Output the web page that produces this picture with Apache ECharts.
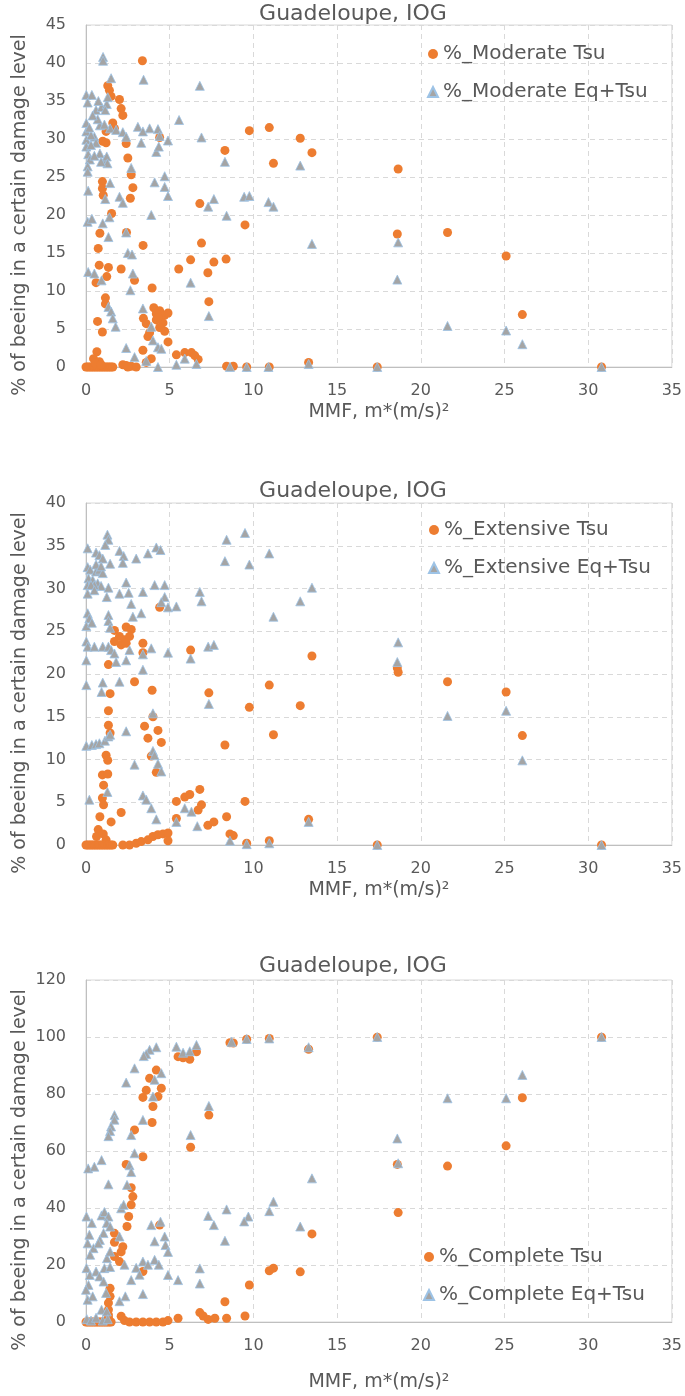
<!DOCTYPE html>
<html>
<head>
<meta charset="utf-8">
<script src="https://cdn.jsdelivr.net/npm/echarts@6/dist/echarts.min.js"></script>
<style>html,body{margin:0;padding:0;background:#fff}#c{width:685px;height:1396px}</style>
</head>
<body>
<div id="c"></div>
<script>
// ---------- DATA ----------
const titles = ['Guadeloupe, IOG', 'Guadeloupe, IOG', 'Guadeloupe, IOG'];
const seriesNames = [
  ['%_Moderate Tsu', '%_Moderate Eq+Tsu'],
  ['%_Extensive Tsu', '%_Extensive Eq+Tsu'],
  ['%_Complete Tsu', '%_Complete Eq+Tsu']
];
const xAxisName = 'MMF, m*(m/s)\u00B2';
const yAxisName = '% of beeing in a certain damage level';
const xRange = [0, 35, 5];
const yMax = [45, 40, 120];
const yInterval = [5, 5, 20];

const moderateTsu = [[3.37,40.3],[1.3,37.0],[1.4,36.4],[1.5,35.6],[2.0,35.2],[2.1,34.0],[2.2,33.1],[1.6,32.1],[1.7,31.4],[1.2,31.0],[1.0,29.7],[1.2,29.5],[2.4,29.4],[4.4,30.2],[8.3,28.5],[9.76,31.1],[10.95,31.5],[12.8,30.1],[13.5,28.2],[11.2,26.8],[2.5,27.5],[2.7,25.3],[2.8,23.6],[2.65,22.2],[0.98,24.4],[0.98,23.5],[1.03,22.6],[6.8,21.5],[1.53,20.2],[9.5,18.7],[0.83,17.6],[2.42,17.7],[0.73,15.6],[3.41,16.0],[6.9,16.3],[0.79,13.4],[1.34,13.1],[2.1,12.9],[1.24,11.9],[0.6,11.1],[2.9,11.4],[5.54,12.9],[6.25,14.1],[7.64,13.8],[7.28,12.4],[8.37,14.2],[7.34,8.6],[3.95,10.4],[1.16,9.1],[1.16,8.3],[0.69,6.0],[0.98,4.6],[3.43,6.4],[3.6,5.7],[4.05,7.8],[4.4,7.4],[4.7,6.8],[4.9,7.1],[4.2,6.2],[4.6,5.8],[4.4,5.2],[4.7,4.7],[3.8,4.5],[3.7,4.0],[4.9,3.3],[4.2,7.0],[4.3,6.5],[3.4,2.2],[3.9,1.1],[3.6,0.6],[5.4,1.6],[5.9,1.9],[6.3,1.9],[6.5,1.5],[6.7,1.0],[0.65,2.0],[0.45,1.1],[0.8,0.7],[2.2,0.3],[2.7,0.1],[3.0,0],[2.4,0.2],[2.5,0],[8.4,0.1],[8.8,0.1],[9.6,0],[10.95,0],[13.3,0.6],[18.65,26.05],[18.6,17.5],[21.6,17.7],[25.1,14.6],[26.07,6.9],[17.4,0],[30.8,0],[0,0],[0.1,0],[0.2,0],[0.3,0],[0.4,0],[0.5,0],[0.6,0],[0.7,0],[0.8,0],[0.9,0],[1.0,0],[1.1,0],[1.2,0],[1.3,0],[1.4,0],[1.5,0],[1.6,0],[0.55,0.5],[0.9,0.3]];

const moderateEqTsu = [[1.02,40.8],[1.02,40.3],[3.44,37.8],[6.8,37.0],[1.5,38.0],[0.02,35.8],[0.35,35.8],[0.1,34.8],[0.6,33.8],[0.93,34.2],[0.74,35.0],[1.24,34.6],[1.15,33.8],[1.3,35.5],[0.02,32.1],[0.02,31.0],[0.02,29.9],[0.02,29.0],[0.13,28.0],[0.23,27.3],[0.1,26.4],[0.1,25.7],[0.83,28.1],[1.13,27.3],[1.24,27.7],[1.28,26.8],[0.83,31.8],[1.44,31.4],[0.5,30.3],[0.3,30.5],[0.6,29.5],[0.2,31.5],[1.1,31.9],[0.7,32.6],[0.4,33.1],[0.9,27.0],[0.5,27.8],[0.3,29.2],[1.8,31.2],[2.2,30.9],[2.4,30.3],[3.1,31.6],[3.4,31.0],[3.3,29.5],[3.8,31.4],[4.3,31.3],[4.4,30.4],[4.9,29.8],[4.2,28.3],[4.35,29.0],[5.56,32.5],[6.9,30.2],[8.3,27.0],[12.8,26.5],[2.7,26.2],[0.13,23.2],[1.15,22.1],[1.44,24.2],[2.0,22.4],[2.2,21.6],[4.1,24.3],[4.7,25.1],[4.7,23.7],[4.9,22.5],[7.64,22.1],[7.3,21.1],[9.45,22.4],[9.76,22.5],[10.9,21.7],[11.2,21.1],[8.4,19.9],[3.9,20.0],[0.1,19.1],[0.35,19.5],[1.0,18.9],[1.4,19.7],[1.34,17.1],[2.4,17.7],[2.5,15.0],[2.75,14.8],[13.5,16.2],[0.13,12.5],[0.5,12.3],[0.93,11.4],[2.8,12.3],[2.65,10.1],[6.25,11.1],[1.34,7.9],[1.5,7.3],[1.6,6.4],[1.77,5.3],[3.4,7.7],[7.34,6.7],[3.9,5.3],[4.0,3.5],[4.3,2.6],[4.5,2.4],[2.4,2.5],[2.9,1.3],[3.6,0.8],[4.3,0],[5.4,0.3],[5.9,1.1],[6.6,0.4],[8.6,0],[9.6,0],[10.9,0],[13.3,0.4],[18.65,16.4],[18.6,11.5],[21.6,5.4],[25.1,4.8],[26.07,3.0],[17.4,0],[30.8,0]];

const extensiveTsu = [[4.4,27.8],[1.7,25.1],[2.4,25.5],[2.7,25.2],[2.0,24.4],[2.3,24.0],[2.6,24.4],[2.1,23.4],[2.4,23.6],[1.7,23.8],[3.4,23.6],[3.4,22.5],[6.25,22.8],[13.5,22.1],[1.34,21.1],[2.9,19.1],[3.95,18.1],[7.34,17.8],[10.95,18.7],[1.44,17.7],[1.34,15.7],[9.76,16.1],[12.8,16.3],[1.34,14.0],[1.44,13.1],[4.0,15.0],[3.5,13.9],[4.3,13.4],[3.7,12.5],[4.5,12.0],[11.2,12.9],[8.3,11.7],[3.9,10.4],[4.2,8.5],[1.2,10.5],[1.3,9.9],[0.98,8.2],[1.3,8.3],[1.05,7.0],[0.98,5.5],[1.05,4.7],[5.4,5.1],[5.9,5.6],[6.2,5.9],[6.8,6.5],[6.9,4.7],[6.7,4.1],[9.5,5.1],[5.4,3.1],[7.28,2.3],[7.64,2.7],[8.4,3.3],[8.6,1.3],[8.8,1.1],[9.6,0.2],[10.95,0.5],[13.3,3.0],[2.1,3.8],[1.5,2.7],[0.83,3.3],[0.73,1.8],[0.63,1.0],[1.03,1.3],[1.2,0.6],[2.2,0],[2.6,0],[3.0,0.2],[3.3,0.4],[3.7,0.6],[4.0,1.0],[4.3,1.2],[4.6,1.3],[4.9,1.4],[4.9,0.5],[18.6,20.7],[18.65,20.2],[21.6,19.1],[25.1,17.9],[26.07,12.8],[17.4,0],[30.8,0],[0,0],[0.1,0],[0.2,0],[0.3,0],[0.4,0],[0.5,0],[0.6,0],[0.7,0],[0.8,0],[0.9,0],[1.0,0],[1.1,0],[1.2,0],[1.3,0],[1.4,0],[1.5,0],[1.6,0]];

const extensiveEqTsu = [[1.28,36.3],[1.34,35.7],[1.15,35.1],[0.1,34.7],[0.6,34.2],[0.8,33.9],[1.0,33.5],[1.44,32.9],[2.0,34.4],[2.25,33.8],[2.2,33.0],[3.0,33.5],[3.7,34.1],[4.2,34.8],[4.45,34.5],[8.4,35.7],[9.5,36.5],[9.76,32.8],[8.3,33.2],[10.95,34.1],[0.1,32.5],[0.25,32.2],[0.15,31.2],[0.1,30.4],[0.4,31.0],[0.6,32.0],[0.7,30.6],[0.9,30.3],[0.5,30.4],[0.3,30.4],[0.8,32.2],[0.6,32.8],[1.0,31.8],[0.9,32.6],[0.1,29.4],[0.5,29.8],[1.34,30.1],[1.24,29.0],[2.0,29.4],[2.4,30.7],[2.55,29.5],[3.4,29.6],[4.1,30.4],[4.7,30.4],[4.7,29.0],[4.5,28.4],[4.9,27.8],[5.4,27.9],[2.7,28.2],[2.8,26.7],[3.3,27.1],[6.8,29.6],[6.9,28.5],[12.8,28.5],[13.5,30.1],[11.2,26.7],[0.1,27.1],[0.2,26.5],[0.02,25.6],[0.35,26.0],[1.34,26.9],[1.34,26.2],[1.44,25.4],[0.02,23.8],[0.1,23.2],[0.5,23.2],[1.0,23.2],[1.34,23.2],[1.5,22.8],[1.7,22.4],[1.8,21.4],[0.02,21.6],[2.4,21.6],[2.6,22.8],[3.4,22.3],[3.9,23.0],[4.9,22.5],[6.25,21.8],[7.3,23.2],[7.64,23.4],[0.02,18.7],[1.0,19.0],[0.93,17.9],[2.0,19.1],[3.4,20.5],[7.34,16.5],[4.0,15.4],[4.0,11.0],[4.1,10.5],[0.02,11.6],[0.35,11.7],[0.6,11.8],[0.8,11.9],[1.13,12.2],[1.34,12.7],[1.44,12.9],[2.4,13.3],[2.9,9.4],[4.3,9.5],[4.5,8.6],[1.28,6.2],[0.2,5.3],[3.4,5.8],[3.6,5.3],[3.9,4.3],[4.2,3.0],[5.9,4.3],[6.3,3.9],[5.4,2.7],[6.65,2.2],[8.6,0.5],[9.6,0.1],[10.95,0.2],[13.3,2.7],[18.65,23.7],[18.6,21.4],[21.6,15.1],[25.1,15.7],[26.07,9.9],[17.4,0],[30.8,0]];

const completeTsu = [[5.5,93.1],[5.8,92.7],[6.2,92.2],[6.6,94.8],[8.6,98.0],[8.8,97.9],[9.6,99.2],[10.95,99.5],[13.3,95.7],[4.2,88.4],[3.8,85.5],[4.5,82.0],[4.3,79.1],[3.6,81.3],[3.4,78.8],[4.0,75.6],[3.95,70.0],[7.34,72.6],[2.9,67.4],[3.4,58.0],[6.25,61.3],[2.4,55.3],[2.7,47.1],[2.8,44.0],[2.7,41.1],[2.55,37.0],[2.45,33.5],[4.4,34.0],[13.5,30.9],[1.7,31.1],[1.7,28.0],[2.2,26.4],[2.1,24.6],[2.0,21.2],[1.7,23.0],[3.4,17.7],[10.95,18.0],[11.2,18.9],[12.8,17.6],[9.76,13.0],[8.3,7.1],[1.44,11.8],[1.44,9.0],[1.34,6.7],[1.34,4.3],[1.34,2.5],[1.34,1.5],[6.8,3.3],[7.0,2.1],[7.3,0.9],[7.7,1.3],[8.4,1.3],[9.5,2.1],[5.5,1.3],[2.1,2.0],[2.3,0.5],[2.6,0],[3.0,0],[3.4,0],[3.8,0],[4.2,0],[4.6,0],[4.9,0.5],[17.4,99.9],[30.8,99.9],[26.07,78.7],[25.1,61.8],[18.6,55.3],[21.6,54.7],[18.65,38.4],[0,0],[0.1,0],[0.2,0],[0.3,0],[0.4,0],[0.5,0],[0.6,0],[0.7,0],[0.8,0],[0.9,0],[1.0,0],[1.1,0],[1.2,0],[1.3,0],[1.4,0],[1.5,0]];

const completeEqTsu = [[5.4,96.6],[5.8,94.5],[6.2,95.0],[6.6,97.2],[8.7,98.3],[9.6,99.3],[10.95,99.5],[13.3,96.4],[4.2,96.4],[3.8,95.5],[3.6,94.0],[3.45,93.3],[2.9,89.0],[2.4,84.0],[4.5,87.3],[4.1,85.0],[4.0,79.1],[3.4,70.9],[7.34,75.8],[1.7,72.6],[1.7,71.0],[1.5,68.6],[1.44,67.0],[1.34,65.2],[2.7,65.6],[6.25,65.6],[2.9,59.2],[0.13,53.9],[0.5,54.5],[0.93,56.8],[2.6,55.0],[2.7,52.6],[1.34,48.3],[2.45,48.1],[13.5,50.4],[11.2,42.2],[10.95,38.9],[9.7,37.0],[9.45,35.3],[8.4,39.5],[7.3,37.2],[7.64,34.0],[8.3,28.5],[12.8,33.5],[0.03,37.0],[0.35,34.7],[0.2,30.6],[0.1,27.6],[0.45,25.9],[0.25,23.6],[0.93,37.4],[1.1,38.6],[1.34,37.0],[1.24,34.7],[1.44,33.5],[1.05,31.2],[0.83,28.8],[0.74,27.6],[2.1,39.9],[2.25,41.1],[2.0,30.0],[3.9,34.0],[4.45,35.2],[4.1,28.3],[4.7,30.0],[4.75,27.0],[4.9,24.6],[3.4,21.2],[3.7,20.1],[4.1,21.8],[4.35,20.1],[2.3,20.1],[3.0,19.0],[3.2,16.6],[2.7,14.7],[0.03,18.9],[0.23,16.5],[0.15,13.0],[0.6,17.7],[0.8,16.0],[1.1,18.9],[1.25,22.4],[1.44,24.7],[1.44,19.3],[1.05,14.2],[0.0,11.3],[0.1,7.8],[0.4,9.0],[1.2,10.2],[2.0,7.3],[2.35,9.0],[3.4,9.8],[4.9,16.5],[5.5,14.7],[6.8,18.8],[6.8,13.5],[0.93,4.3],[1.24,3.7],[0.05,1.0],[0.3,0.5],[0.6,1.5],[1.0,0.5],[1.3,1.0],[17.4,100],[30.8,100],[26.07,86.7],[21.6,78.5],[25.1,78.5],[18.6,64.4],[18.65,55.7]];

const panelData = [[moderateTsu, moderateEqTsu],[extensiveTsu, extensiveEqTsu],[completeTsu, completeEqTsu]];

// ---------- LAYOUT / STYLE ----------
const FONT = '"DejaVu Sans", sans-serif';
const TXT = '#595959';
const gridTops = [25, 503, 980];
const plotH = 342;
const titleTops = [-2, 475, 950];
const legendPos = [[422, 39], [423, 515], [418, 1242]];
const yNameCenters = [215, 693, 1170];
const xNameGaps = [36, 36, 51];
const orange = '#ED7D31';

const chart = echarts.init(document.getElementById('c'), null, {renderer: 'canvas'});

const option = {
  backgroundColor: '#ffffff',
  animation: false,
  title: [], legend: [], grid: [], xAxis: [], yAxis: [], series: [], graphic: []
};

for (let i = 0; i < 3; i++) {
  option.title.push({
    text: titles[i], left: 348, top: titleTops[i], textAlign: 'center',
    textStyle: {fontFamily: FONT, fontSize: 22, fontWeight: 'normal', color: TXT}
  });
  option.grid.push({
    left: 86, width: 588, top: gridTops[i], height: plotH,
    show: true, borderColor: '#d9d9d9', borderWidth: 1, containLabel: false
  });
  option.xAxis.push({
    type: 'value', gridIndex: i, min: xRange[0], max: xRange[1], interval: xRange[2],
    name: xAxisName, nameLocation: 'middle', nameGap: xNameGaps[i],
    nameTextStyle: {fontFamily: FONT, fontSize: 19, color: TXT},
    axisLine: {show: true, lineStyle: {color: '#bfbfbf', width: 1}},
    axisTick: {show: false},
    axisLabel: {fontFamily: FONT, fontSize: 16, color: TXT, margin: 16},
    splitLine: {show: true, lineStyle: {color: '#d9d9d9', type: [5, 4], width: 1}}
  });
  option.yAxis.push({
    type: 'value', gridIndex: i, min: 0, max: yMax[i], interval: yInterval[i],
    axisLine: {show: true, lineStyle: {color: '#bfbfbf', width: 1}},
    axisTick: {show: false},
    axisLabel: {fontFamily: FONT, fontSize: 16, color: TXT, margin: 20},
    splitLine: {show: true, lineStyle: {color: '#d9d9d9', type: [5, 4], width: 1}}
  });
  option.legend.push({
    left: legendPos[i][0], top: legendPos[i][1], orient: 'vertical',
    itemWidth: 10, itemHeight: 10, itemGap: 18,
    data: [
      {name: seriesNames[i][0], icon: 'circle'},
      {name: seriesNames[i][1], icon: 'triangle'}
    ],
    textStyle: {fontFamily: FONT, fontSize: 20, color: TXT, lineHeight: 20}
  });
  option.series.push({
    type: 'scatter', name: seriesNames[i][0], xAxisIndex: i, yAxisIndex: i,
    data: panelData[i][0], symbol: 'circle', symbolSize: 9, z: 2,
    itemStyle: {color: orange, opacity: 1}
  });
  option.series.push({
    type: 'scatter', name: seriesNames[i][1], xAxisIndex: i, yAxisIndex: i,
    data: panelData[i][1], symbol: 'triangle', symbolSize: 9, z: 3,
    itemStyle: {color: '#A5A5A5', borderColor: '#9DC3E6', borderWidth: 0.8, opacity: 1}
  });
  option.graphic.push({
    type: 'text', x: 20, y: yNameCenters[i], rotation: Math.PI / 2,
    style: {
      text: yAxisName, font: '19px "DejaVu Sans", sans-serif', fill: TXT,
      textAlign: 'center', textVerticalAlign: 'middle', align: 'center', verticalAlign: 'middle'
    }
  });
}

chart.setOption(option);
</script>
</body>
</html>
